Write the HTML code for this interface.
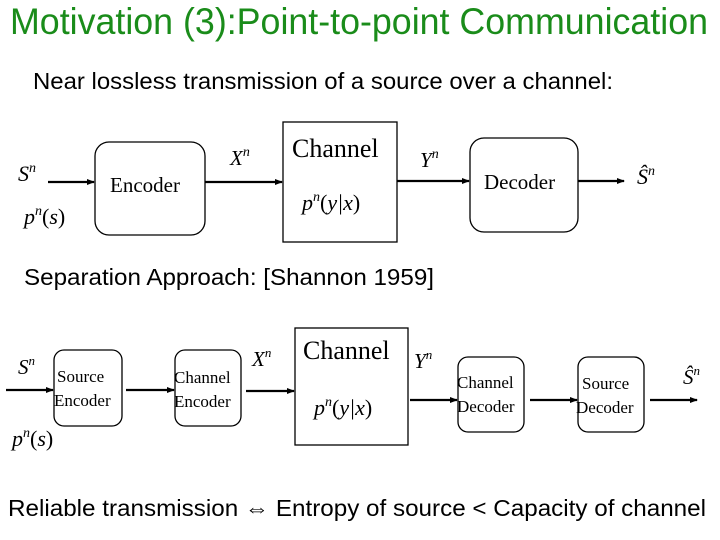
<!DOCTYPE html>
<html><head><meta charset="utf-8"><style>
html,body{margin:0;padding:0;background:#fff;}
svg{display:block;}
.s{font-family:"Liberation Sans",sans-serif;}
.r{font-family:"Liberation Serif",serif;}
.i{font-family:"Liberation Serif",serif;font-style:italic;}
</style></head><body>
<svg width="720" height="540" viewBox="0 0 720 540" xmlns="http://www.w3.org/2000/svg">
<defs><marker id="a" markerWidth="8" markerHeight="8" refX="7" refY="4" orient="auto" markerUnits="userSpaceOnUse"><path d="M0,1 L8,4 L0,7 Z" fill="#000"/></marker></defs>
<text class="s" x="10" y="34" font-size="37" fill="#1a8c1a" textLength="698" lengthAdjust="spacingAndGlyphs">Motivation (3):Point-to-point Communication</text>
<text class="s" x="33" y="89" font-size="23" fill="#000" textLength="580" lengthAdjust="spacingAndGlyphs">Near lossless transmission of a source over a channel:</text>

<g stroke="#000" stroke-width="1.3" fill="none">
<rect x="95" y="142" width="110" height="93" rx="14"/>
<rect x="283" y="122" width="114" height="120"/>
<rect x="470" y="138" width="108" height="94" rx="14"/>
</g>
<g stroke="#000" stroke-width="2.2" marker-end="url(#a)">
<line x1="48" y1="182" x2="94" y2="182"/>
<line x1="205" y1="182" x2="282" y2="182"/>
<line x1="397" y1="181" x2="469" y2="181"/>
<line x1="578" y1="181" x2="624" y2="181"/>
</g>
<text class="i" x="18" y="181" font-size="22">S<tspan font-size="14" dy="-9">n</tspan></text>
<text class="i" x="24" y="224" font-size="22">p<tspan font-size="14" dy="-9">n</tspan><tspan dy="9" font-style="normal">(</tspan>s<tspan font-style="normal">)</tspan></text>
<text class="r" x="110" y="192" font-size="21">Encoder</text>
<text class="i" x="230" y="165" font-size="21">X<tspan font-size="14" dy="-9">n</tspan></text>
<text class="r" x="292" y="157" font-size="26">Channel</text>
<text class="i" x="302" y="210" font-size="22">p<tspan font-size="14" dy="-9">n</tspan><tspan dy="9" font-style="normal">(</tspan>y|x<tspan font-style="normal">)</tspan></text>
<text class="i" x="420" y="167" font-size="21">Y<tspan font-size="14" dy="-9">n</tspan></text>
<text class="r" x="484" y="189" font-size="21">Decoder</text>
<text class="i" x="637" y="184" font-size="22">Ŝ<tspan font-size="14" dy="-9">n</tspan></text>

<text class="s" x="24" y="285" font-size="23" textLength="410" lengthAdjust="spacingAndGlyphs">Separation Approach: [Shannon 1959]</text>

<g stroke="#000" stroke-width="1.3" fill="none">
<rect x="54" y="350" width="68" height="76" rx="10"/>
<rect x="175" y="350" width="66" height="76" rx="10"/>
<rect x="295" y="328" width="113" height="117"/>
<rect x="458" y="357" width="66" height="75" rx="10"/>
<rect x="578" y="357" width="66" height="75" rx="10"/>
</g>
<g stroke="#000" stroke-width="2.2" marker-end="url(#a)">
<line x1="6" y1="390" x2="53" y2="390"/>
<line x1="126" y1="390" x2="174" y2="390"/>
<line x1="246" y1="391" x2="294" y2="391"/>
<line x1="410" y1="400" x2="457" y2="400"/>
<line x1="530" y1="400" x2="577" y2="400"/>
<line x1="650" y1="400" x2="697" y2="400"/>
</g>
<text class="i" x="18" y="374" font-size="21">S<tspan font-size="13" dy="-9">n</tspan></text>
<text class="r" x="57" y="382" font-size="17">Source</text>
<text class="r" x="54" y="406" font-size="17">Encoder</text>
<text class="r" x="174" y="383" font-size="17">Channel</text>
<text class="r" x="174" y="407" font-size="17">Encoder</text>
<text class="i" x="252" y="366" font-size="21">X<tspan font-size="13" dy="-9">n</tspan></text>
<text class="r" x="303" y="359" font-size="26">Channel</text>
<text class="i" x="314" y="415" font-size="22">p<tspan font-size="14" dy="-9">n</tspan><tspan dy="9" font-style="normal">(</tspan>y|x<tspan font-style="normal">)</tspan></text>
<text class="i" x="414" y="368" font-size="21">Y<tspan font-size="13" dy="-9">n</tspan></text>
<text class="r" x="457" y="388" font-size="17">Channel</text>
<text class="r" x="457" y="412" font-size="17">Decoder</text>
<text class="r" x="582" y="389" font-size="17">Source</text>
<text class="r" x="576" y="413" font-size="17">Decoder</text>
<text class="i" x="683" y="384" font-size="21">Ŝ<tspan font-size="13" dy="-9">n</tspan></text>
<text class="i" x="12" y="446" font-size="22">p<tspan font-size="14" dy="-9">n</tspan><tspan dy="9" font-style="normal">(</tspan>s<tspan font-style="normal">)</tspan></text>

<text class="s" x="8" y="516" font-size="23" textLength="698" lengthAdjust="spacingAndGlyphs">Reliable transmission ⇔ Entropy of  source &lt; Capacity of channel</text>
</svg>
</body></html>
